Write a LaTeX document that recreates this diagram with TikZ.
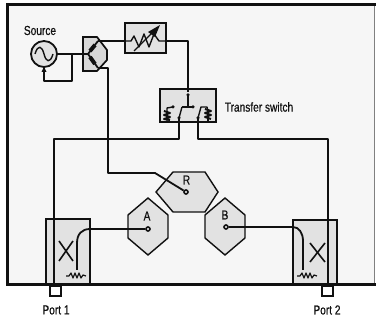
\documentclass[tikz,border=0pt]{standalone}
\usepackage{fontspec}
\setmainfont{Liberation Sans}
\newfontfamily\lblfont{Liberation Sans}[FakeBold=0.6]
\usepackage{graphicx}
\usetikzlibrary{arrows.meta}
\definecolor{panel}{HTML}{F6F6F6}
\definecolor{hatch}{HTML}{E2E2E2}
\definecolor{ink}{HTML}{111111}
\tikzset{
  wire/.style={draw=ink,line width=1.8pt,line join=round},
  thinwire/.style={draw=ink,line width=1.2pt,line join=round},
  unit/.style={draw=ink,line width=1.7pt,fill=hatch,line join=miter},
  lbl/.style={inner sep=0pt,text=ink,font=\lblfont\fontsize{13}{15}\selectfont},
  dot/.style={circle,draw=ink,line width=1.6pt,fill=hatch,inner sep=0pt,minimum size=4pt},
  smalldot/.style={circle,fill=ink,inner sep=0pt,minimum size=3.5pt}
}
\newcommand{\narrow}[1]{\scalebox{0.78}[1]{#1}}
\begin{document}
\begin{tikzpicture}[x=1pt,y=-1pt]
\useasboundingbox (0,0) rectangle (376,320);
\fill[white] (0,0) rectangle (376,320);
\fill[panel] (8,5) rectangle (374.5,285);
\draw[draw=gray,line width=1pt] (374.5,5)--(374.5,285);
\draw[draw=ink,line width=3pt,line cap=rect] (374.5,5)--(7.5,5)--(7.5,285)--(374.5,285);
% hexagons
\draw[unit,line width=1.4pt] (173,172)--(205,172)--(218,192)--(205,212)--(173,212)--(156,192)--cycle;
\draw[unit,line width=1.4pt] (148,198)--(168,215)--(168,238)--(148,255)--(128,238)--(128,215)--cycle;
\draw[unit,line width=1.4pt] (225,198)--(245,215)--(245,238)--(225,255)--(205,238)--(205,215)--cycle;
% couplers
\draw[unit] (46,219) rectangle (90,284);
\draw[unit] (293,220) rectangle (337,284);
% ports
\draw[draw=ink,line width=1.3pt,fill=white] (50,286) rectangle (61,296);
\draw[draw=ink,line width=1.3pt,fill=white] (322,286) rectangle (333,296);
% splitter
\draw[unit,fill=hatch!90!gray] (83,37)--(97,37)--(107,50)--(107,60)--(97,71)--(83,71)--cycle;
% attenuator
\draw[unit] (125,23) rectangle (166,53);
% switch
\draw[unit] (160,89) rectangle (216,122);
% nodes
\node[circle,draw=ink,line width=1.8pt,fill=hatch,minimum size=26pt,inner sep=0pt] (src) at (44,54) {};
\draw[wire,line width=1.4pt] (35,54) .. controls (38,44) and (42,46) .. (44,54) .. controls (46,62) and (50,64) .. (53,54);
\coordinate (loopa) at (72,54);
\coordinate (loopb) at (72,81);
\coordinate (loopc) at (44,81);
\coordinate (sp) at (88,54);
\coordinate (spt) at (98,41);
\coordinate (spb) at (98,68);
\coordinate (atin) at (125,41);
\coordinate (atout) at (166,41);
\coordinate (swin) at (188,107);
\coordinate (swl) at (179,118);
\coordinate (swr) at (198,118);
\node[dot] (dr) at (186,192) {};
\node[dot] (da) at (148,229) {};
\node[dot] (db) at (226,227) {};
\draw[wire] (src.east)--(sp);
\draw[wire] (loopa)--(loopb)--(loopc)--(src.south);
\fill[ink] (44,67)--(41.5,72)--(46.5,72)--cycle;
\draw[ink,line width=4pt] (90,51)--(95,45);
\draw[ink,line width=4pt] (90,57)--(95,64);
\draw[wire] (sp)--(spt);
\draw[wire] (sp)--(spb);
\draw[wire] (spt)--(atin);
\draw[wire] (atout)--(188,41)--(188,92);
\draw[wire] (spb)--(108,68)--(108,173)--(155,173)--(dr);
% attenuator symbol
\draw[wire,line width=1.4pt] (125,41)--(131,41)--(134,36)--(139,47)--(144,34)--(149,47)--(154,34)--(159,41)--(166,41);
\draw[wire,line width=1.4pt] (134,51)--(152,33);
\fill[ink] (148,32)--(160,25)--(155,37)--cycle;
% switch content
\node[smalldot] (s0) at (188,95) {};
\draw[wire,line width=1.4pt] (swin)--(188,95);
\draw[wire,line width=1.4pt] (182,107)--(193,107);
\draw[wire,line width=1.4pt] (182,107)--(swl);
\draw[wire,line width=1.4pt] (swr)--(201,107)--(207,107)--(208,112);
\draw[wire,line width=1.4pt] (173,107)--(167,108)--(167,122);
\node[smalldot] at (swl) {};
\node[smalldot] at (swr) {};
\node[smalldot] at (193,107) {};
\node[smalldot] at (173,107) {};
\draw[wire,line width=2pt] (164,111)--(170,113)--(164,115)--(170,117)--(164,119)--(170,120);
\draw[wire,line width=1.4pt] (208,112)--(208,122);
\draw[wire,line width=2pt] (205,109)--(211,111)--(205,113)--(211,115)--(205,117)--(211,119);
% switch outputs
\draw[wire] (swl)--(179,139)--(54,139)--(54,284);
\draw[wire] (swr)--(198,139)--(328,139)--(328,284);
% A coupler
\draw[wire] (da)--(90,229) .. controls (82,229) and (77,234) .. (77,243)--(77,270);
\draw[thinwire,line width=1.6pt] (59,241)--(73,261);
\draw[thinwire,line width=1.6pt] (73,241)--(59,261);
\draw[thinwire] (66,276)--(69,276)--(71,273)--(73,278)--(75,273)--(77,278)--(79,273)--(81,278)--(83,275)--(86,276);
% B coupler
\draw[wire] (db)--(293,227) .. controls (299,227) and (303,233) .. (303,241)--(303,270);
\draw[thinwire,line width=1.6pt] (310,243)--(325,262);
\draw[thinwire,line width=1.6pt] (325,243)--(310,262);
\draw[thinwire] (297,276)--(300,276)--(302,273)--(304,278)--(306,273)--(308,278)--(310,273)--(312,278)--(314,275)--(317,276);
% labels
\node[lbl] (tsource) at (40,30.5) {\narrow{Source}};
\node[lbl] (tswitch) at (259,107) {\narrow{Transfer switch}};
\node[lbl] (tr) at (186.5,180) {\narrow{R}};
\node[lbl] (ta) at (147,216) {\narrow{A}};
\node[lbl] (tb) at (225,215) {\narrow{B}};
\node[lbl] (tp1) at (56,310) {\narrow{Port 1}};
\node[lbl] (tp2) at (327,310) {\narrow{Port 2}};
\end{tikzpicture}
\end{document}
